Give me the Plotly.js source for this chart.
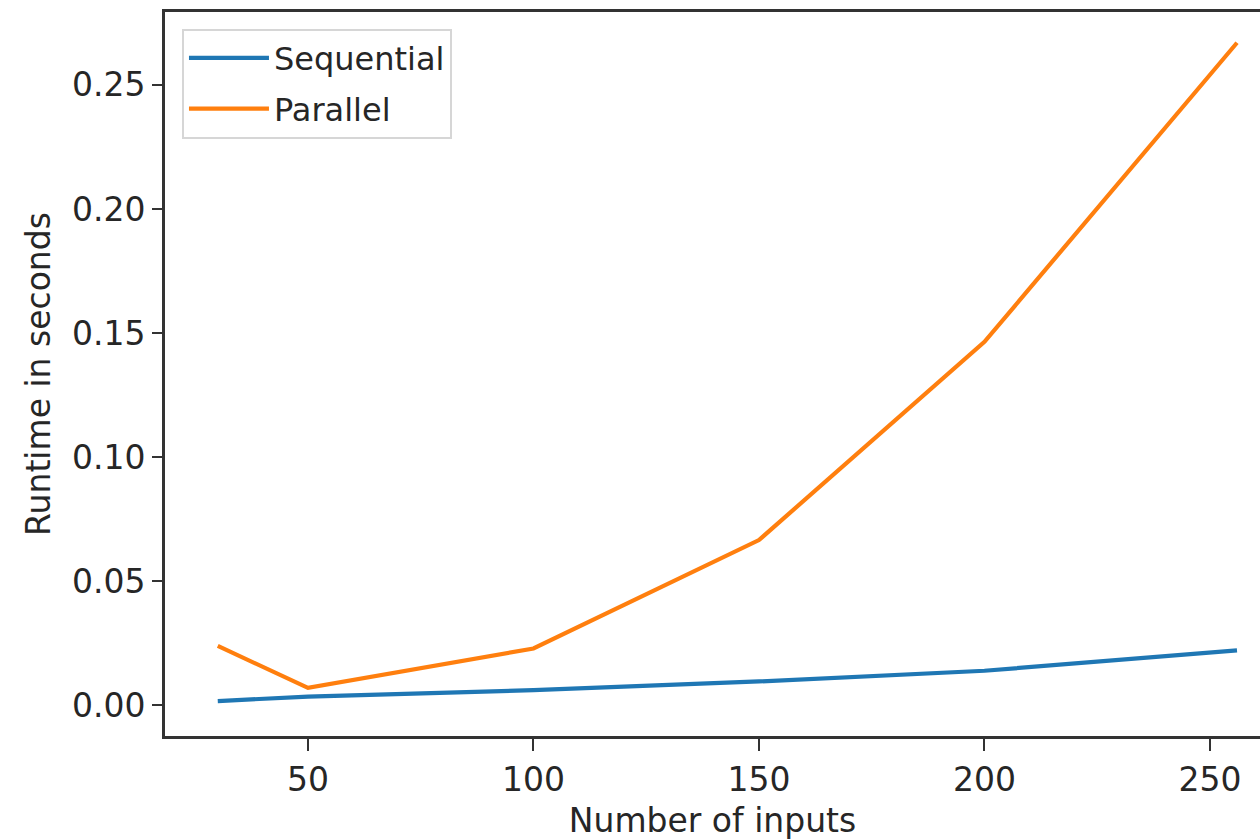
<!DOCTYPE html>
<html>
<head>
<meta charset="utf-8">
<script src="https://cdn.plot.ly/plotly-3.0.1.min.js"></script>
<style>html,body{margin:0;padding:0;background:#fff;}#chart{width:1260px;height:840px;}</style>
</head>
<body>
<div id="chart"></div>
<script>
const inputs = [30, 50, 100, 150, 200, 256];
const sequential = [0.0016, 0.0034, 0.006, 0.0095, 0.0138, 0.022];
const parallel = [0.0238, 0.0069, 0.0228, 0.0665, 0.1464, 0.267];
const yTicks = [0, 0.05, 0.10, 0.15, 0.20, 0.25];
const yTickText = ['0.00', '0.05', '0.10', '0.15', '0.20', '0.25'];
const xTicks = [50, 100, 150, 200, 250];

const traces = [
  {x: inputs, y: sequential, name: 'Sequential', type: 'scatter', mode: 'lines',
   legendgroup: 'a', line: {color: '#1f77b4', width: 4.2}},
  {x: inputs, y: parallel, name: 'Parallel', type: 'scatter', mode: 'lines',
   legendgroup: 'b', line: {color: '#ff7f0e', width: 4.2}}
];

const font = {family: 'DejaVu Sans', size: 33, color: '#262626'};
const layout = {
  width: 1260, height: 840,
  margin: {l: 165, r: 0, t: 12, b: 104},
  paper_bgcolor: '#fff', plot_bgcolor: '#fff',
  font: font,
  showlegend: true,
  legend: {x: 0.0155, y: 0.977, xanchor: 'left', yanchor: 'top',
    bordercolor: '#d6d6d6', borderwidth: 2, bgcolor: 'rgba(255,255,255,0.8)',
    font: {family: 'DejaVu Sans', size: 32, color: '#262626'}, itemwidth: 80,
    traceorder: 'grouped', tracegroupgap: 6},
  xaxis: {
    range: [18.3, 261.1], tickvals: xTicks, ticks: 'outside', ticklen: 12, tickwidth: 2,
    tickcolor: '#333', showgrid: false, zeroline: false, showline: true, linecolor: '#333',
    linewidth: 3, mirror: true, tickfont: font,
    title: {text: 'Number of inputs', font: font, standoff: 12}
  },
  yaxis: {
    range: [-0.0125, 0.2794], tickvals: yTicks, ticktext: yTickText, ticks: 'outside',
    ticklen: 10, tickwidth: 2, tickcolor: '#333', showgrid: false, zeroline: false,
    showline: true, linecolor: '#333', linewidth: 3, mirror: false, tickfont: font,
    title: {text: 'Runtime in seconds', font: font, standoff: 12}
  }
};
Plotly.newPlot('chart', traces, layout, {displayModeBar: false, staticPlot: true});
</script>
</body>
</html>
